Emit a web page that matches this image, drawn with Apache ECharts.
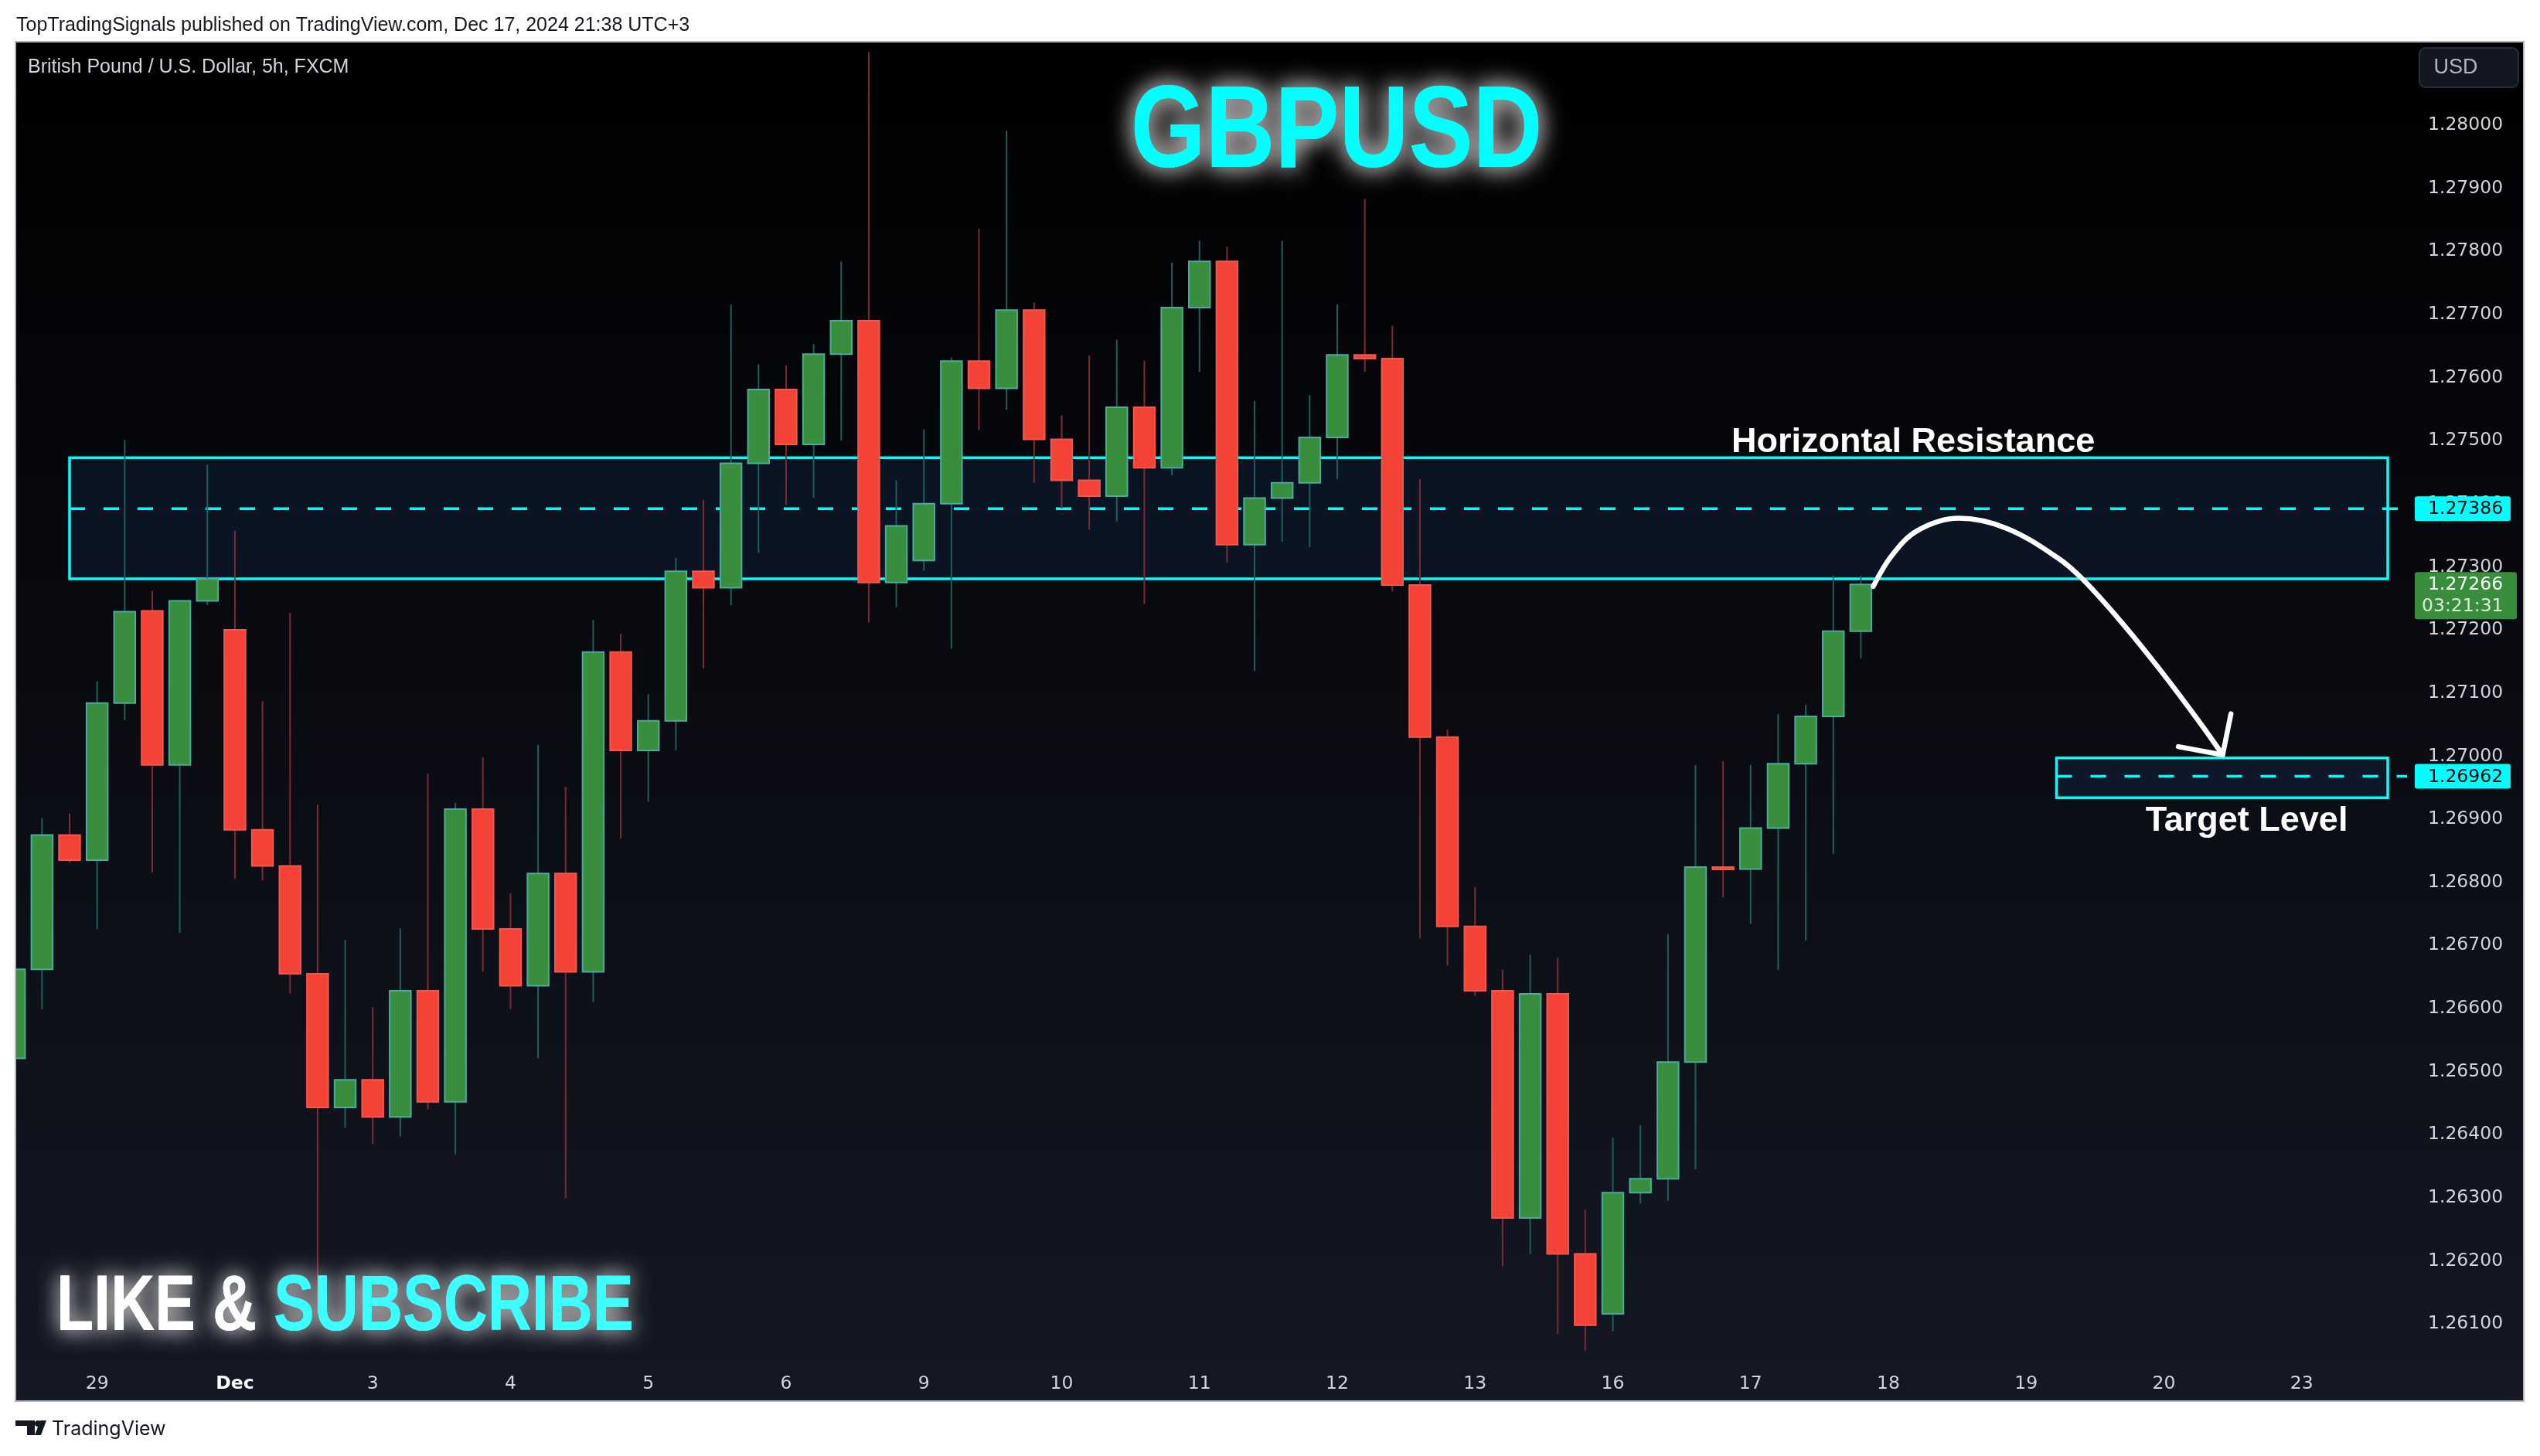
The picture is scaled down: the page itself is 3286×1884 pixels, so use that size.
<!DOCTYPE html>
<html>
<head>
<meta charset="utf-8">
<script src="https://cdn.jsdelivr.net/npm/echarts@6/dist/echarts.min.js"></script>
<style>
html,body{margin:0;padding:0;background:#ffffff;}
#c{width:3286px;height:1884px;}
</style>
</head>
<body>
<div id="c"></div>
<script>
// ---------------- DATA ----------------
const dayLabels = ['29','Dec','3','4','5','6','9','10','11','12','13','16','17','18','19','20','23'];
const firstDayBar = 3;      // bar index where "29" starts
const barsPerDay = 5;       // 5h bars per session

const opens  = [1.26515,1.26656,1.26869,1.26829,1.27078,1.27224,1.26980,1.27240,1.27194,1.26877,
                1.26820,1.26649,1.26437,1.26481,1.26422,1.26622,1.26446,1.26910,1.26720,1.26630,
                1.26808,1.26652,1.27159,1.27003,1.27050,1.27287,1.27261,1.27458,1.27575,1.27488,
                1.27631,1.27684,1.27269,1.27304,1.27394,1.27620,1.27577,1.27701,1.27496,1.27431,
                1.27406,1.27547,1.27451,1.27705,1.27778,1.27329,1.27403,1.27427,1.27499,1.27630,
                1.27624,1.27265,1.27024,1.26724,1.26622,1.26262,1.26617,1.26205,1.26110,1.26302,
                1.26324,1.26509,1.26818,1.26815,1.26880,1.26982,1.27057,1.27192];
const highs  = [1.26672,1.26896,1.26903,1.27112,1.27495,1.27256,1.27241,1.27456,1.27351,1.27081,
                1.27221,1.26917,1.26703,1.26596,1.26721,1.26966,1.26920,1.26992,1.26776,1.27012,
                1.26945,1.27210,1.27188,1.27092,1.27308,1.27400,1.27710,1.27615,1.27613,1.27647,
                1.27778,1.28110,1.27431,1.27512,1.27626,1.27830,1.27985,1.27713,1.27534,1.27629,
                1.27654,1.27621,1.27776,1.27811,1.27801,1.27557,1.27811,1.27566,1.27710,1.27877,
                1.27676,1.27433,1.27036,1.26786,1.26655,1.26679,1.26674,1.26275,1.26389,1.26409,
                1.26712,1.26980,1.26986,1.26980,1.27061,1.27076,1.27280,1.27280];
const lows   = [1.26500,1.26593,1.26825,1.26719,1.27051,1.26810,1.26714,1.27233,1.26800,1.26797,
                1.26618,1.26110,1.26405,1.26379,1.26391,1.26434,1.26363,1.26652,1.26593,1.26515,
                1.26293,1.26604,1.26863,1.26922,1.27003,1.27133,1.27233,1.27316,1.27392,1.27404,
                1.27494,1.27206,1.27230,1.27288,1.27164,1.27511,1.27543,1.27427,1.27387,1.27353,
                1.27366,1.27235,1.27439,1.27603,1.27301,1.27129,1.27334,1.27325,1.27433,1.27603,
                1.27255,1.26705,1.26662,1.26614,1.26185,1.26205,1.26078,1.26052,1.26082,1.26285,
                1.26289,1.26339,1.26770,1.26728,1.26655,1.26702,1.26839,1.27149];
const closes = [1.26656,1.26869,1.26829,1.27078,1.27223,1.26980,1.27240,1.27275,1.26877,1.26820,
                1.26649,1.26437,1.26481,1.26422,1.26622,1.26446,1.26910,1.26720,1.26630,1.26808,
                1.26652,1.27159,1.27003,1.27050,1.27287,1.27261,1.27458,1.27575,1.27488,1.27631,
                1.27684,1.27269,1.27359,1.27394,1.27620,1.27577,1.27701,1.27496,1.27431,1.27406,
                1.27547,1.27451,1.27705,1.27778,1.27329,1.27403,1.27427,1.27499,1.27630,1.27624,
                1.27265,1.27024,1.26724,1.26622,1.26262,1.26617,1.26205,1.26092,1.26302,1.26324,
                1.26509,1.26818,1.26815,1.26880,1.26982,1.27057,1.27192,1.27266];

const priceTicks = [1.261,1.262,1.263,1.264,1.265,1.266,1.267,1.268,1.269,1.270,
                    1.271,1.272,1.273,1.274,1.275,1.276,1.277,1.278,1.279,1.280];

// annotation zones (bar index range, prices)
const resistanceZone = {x0: 2.0, x1: 86.12, top: 1.27467, bottom: 1.27275, level: 1.27386};
const targetZone     = {x0: 74.1, x1: 86.12, top: 1.26991, bottom: 1.26928, level: 1.26962};
const lastPrice = 1.27266;
const countdown = '03:21:31';

// hand-drawn projection arrow (bar index, price)
const arrowX = [67.45, 68.11, 69.04, 70.55, 72.29, 74.15, 75.08, 76.48, 77.87, 79.27, 80.13];
const arrowY = [1.27263, 1.27311, 1.27351, 1.27371, 1.27355, 1.27308, 1.27273, 1.27205, 1.27130, 1.27049, 1.26996];
const arrowHeadX = [78.52, 80.13, 80.43];
const arrowHeadY = [1.27009, 1.26996, 1.27061];

// ---------------- CHART ----------------
const chart = echarts.init(document.getElementById('c'), null, {renderer: 'canvas'});

const xMin = 0.0645, xMax = 86.82;
const yMin = 1.260365, yMax = 1.281263;
const dayStarts = dayLabels.map((_, i) => firstDayBar + i * barsPerDay);

const candleData = opens.map((o, i) => [i, o, closes[i], lows[i], highs[i]]);
const CYAN = '#00ffff';
const labelFont = "'DejaVu Sans', sans-serif";
const LF = 23.5;

const option = {
  backgroundColor: '#ffffff',
  animation: false,
  grid: {left: 21, right: 172, top: 54, bottom: 124, containLabel: false},
  xAxis: {
    type: 'value', min: xMin, max: xMax,
    axisLine: {show: false}, axisTick: {show: false}, splitLine: {show: false},
    axisLabel: {
      customValues: dayStarts,
      margin: 19,
      color: '#d1d4dc', fontFamily: labelFont, fontSize: LF,
      formatter: v => {
        const idx = Math.round((v - firstDayBar) / barsPerDay);
        const t = dayLabels[idx] || '';
        return t === 'Dec' ? '{b|Dec}' : t;
      },
      rich: {b: {fontWeight: 'bold', color: '#ffffff', fontFamily: labelFont, fontSize: LF}}
    }
  },
  yAxis: {
    type: 'value', position: 'right', min: yMin, max: yMax, scale: true,
    axisLine: {show: false}, axisTick: {show: false}, splitLine: {show: false},
    axisLabel: {
      customValues: priceTicks,
      margin: 27, align: 'left', verticalAlign: 'top', lineHeight: 10,
      color: '#d1d4dc', fontFamily: labelFont, fontSize: LF,
      formatter: v => v.toFixed(5)
    }
  },
  series: [
    {
      name: 'resistance', type: 'line', z: 1, silent: true, symbol: 'none',
      data: [[resistanceZone.x0, resistanceZone.level], [xMax, resistanceZone.level]],
      lineStyle: {color: CYAN, width: 3.5, type: [20, 24]},
      markArea: {
        silent: true,
        itemStyle: {color: 'rgba(40,110,200,0.12)', borderColor: CYAN, borderWidth: 3.5},
        data: [
          [{coord: [resistanceZone.x0, resistanceZone.top]}, {coord: [resistanceZone.x1, resistanceZone.bottom]}],
          [{coord: [targetZone.x0, targetZone.top]}, {coord: [targetZone.x1, targetZone.bottom]}]
        ]
      }
    },
    {
      name: 'target', type: 'line', z: 1, silent: true, symbol: 'none',
      data: [[targetZone.x0, targetZone.level], [xMax, targetZone.level]],
      lineStyle: {color: CYAN, width: 3.5, type: [20, 24]}
    },
    {
      name: 'GBPUSD', type: 'custom', z: 5, clip: true,
      data: candleData,
      encode: {x: 0, y: [1, 2, 3, 4]},
      renderItem: (params, api) => {
        const x = api.value(0), o = api.value(1), c = api.value(2), l = api.value(3), h = api.value(4);
        const pO = api.coord([x, o]), pC = api.coord([x, c]);
        const pL = api.coord([x, l]), pH = api.coord([x, h]);
        const w = api.size([1, 0])[0] * 0.77;
        const up = c >= o;
        const top = Math.min(pO[1], pC[1]);
        const bot = Math.max(pO[1], pC[1]);
        return {
          type: 'group',
          children: [
            {type: 'line', shape: {x1: pH[0], y1: pH[1], x2: pL[0], y2: pL[1]},
             style: {stroke: up ? '#1f5e5b' : '#7c2c30', lineWidth: 2}},
            {type: 'rect', shape: {x: pO[0] - w / 2, y: top, width: w, height: Math.max(bot - top, 3)},
             style: {fill: up ? '#388e3c' : '#f44336', stroke: up ? '#4aab9e' : '#f2584e', lineWidth: 2}}
          ]
        };
      }
    },
    {
      name: 'projection', type: 'line', z: 8, silent: true, symbol: 'none', clip: false,
      smooth: 0.35,
      data: arrowX.map((x, i) => [x, arrowY[i]]),
      lineStyle: {color: '#ffffff', width: 6.5, cap: 'round', join: 'round'}
    },
    {
      name: 'arrowHead', type: 'line', z: 8, silent: true, symbol: 'none', clip: false,
      data: arrowHeadX.map((x, i) => [x, arrowHeadY[i]]),
      lineStyle: {color: '#ffffff', width: 6.5, cap: 'round', join: 'round'}
    }
  ]
};
chart.setOption(option);

const px = (x, y) => chart.convertToPixel({gridIndex: 0}, [x, y]);

// panel geometry
const panel = {x: 20, y: 54, w: 3245, h: 1759};

const g = [];
g.push({
  type: 'rect', z: -10, silent: true,
  shape: {x: panel.x, y: panel.y, width: panel.w, height: panel.h},
  style: {
    fill: new echarts.graphic.LinearGradient(0, 0, 0, 1, [
      {offset: 0, color: '#000000'}, {offset: 1, color: '#141824'}
    ]),
    stroke: '#b2b5be', lineWidth: 2
  }
});
// header
g.push({type: 'text', z: 50, x: 21, y: 33, style: {
  text: 'TopTradingSignals published on TradingView.com, Dec 17, 2024 21:38 UTC+3',
  fill: '#131722', font: "25px 'Liberation Sans', sans-serif", textVerticalAlign: 'middle'}});
g.push({type: 'text', z: 50, x: 36, y: 87, style: {
  text: 'British Pound / U.S. Dollar, 5h, FXCM',
  fill: '#d1d4dc', font: "25px 'Liberation Sans', sans-serif", textVerticalAlign: 'middle'}});
// USD button
g.push({type: 'rect', z: 50, shape: {x: 3130, y: 62, width: 128, height: 51, r: 8},
  style: {fill: '#131722', stroke: '#2a2e39', lineWidth: 2}});
g.push({type: 'text', z: 51, x: 3177, y: 88, style: {text: 'USD', fill: '#b2b5be',
  font: "27px 'Liberation Sans', sans-serif", textAlign: 'center', textVerticalAlign: 'middle'}});

// GBPUSD title with glow
for (let k = 0; k < 2; k++) {
  g.push({type: 'text', z: 60, x: 1729, y: 175, scaleX: 0.83, style: {
    text: 'GBPUSD', fill: '#00ffff',
    font: "bold 150px 'Liberation Sans', Arial, sans-serif",
    textAlign: 'center', textVerticalAlign: 'middle',
    textShadowColor: 'rgba(200,200,200,0.85)', textShadowBlur: 30}});
}
// LIKE & SUBSCRIBE
for (let k = 0; k < 2; k++) {
  g.push({type: 'text', z: 60, x: 73, y: 1693, scaleX: 0.775, style: {
    text: '{w|LIKE & }{c|SUBSCRIBE}',
    font: "bold 102px 'Liberation Sans', Arial, sans-serif",
    textVerticalAlign: 'middle',
    textShadowColor: 'rgba(200,200,200,0.8)', textShadowBlur: 26,
    rich: {
      w: {fill: '#ffffff', font: "bold 102px 'Liberation Sans', Arial, sans-serif"},
      c: {fill: '#3cffff', font: "bold 102px 'Liberation Sans', Arial, sans-serif"}
    }}});
}

// annotation texts
const hrPos = px(68.9, resistanceZone.top);
g.push({type: 'text', z: 60, x: hrPos[0], y: hrPos[1] + 3, style: {
  text: 'Horizontal Resistance', fill: '#ffffff',
  font: "bold 45px 'Liberation Sans', Arial, sans-serif",
  textAlign: 'center', textVerticalAlign: 'bottom'}});
const tlPos = px(81.0, targetZone.bottom);
g.push({type: 'text', z: 60, x: tlPos[0], y: tlPos[1] + 8, style: {
  text: 'Target Level', fill: '#ffffff',
  font: "bold 45px 'Liberation Sans', Arial, sans-serif",
  textAlign: 'center', textVerticalAlign: 'top'}});

// price badges
function badge(price, fill, textColor) {
  const y = px(0, price)[1];
  g.push({type: 'rect', z: 70, shape: {x: 3124, y: y - 16, width: 124, height: 32, r: 3}, style: {fill: fill}});
  g.push({type: 'text', z: 71, x: 3141, y: y + 1, style: {text: price.toFixed(5), fill: textColor,
    font: LF + "px " + labelFont, textVerticalAlign: 'middle'}});
}
badge(resistanceZone.level, CYAN, '#000000');
badge(targetZone.level, CYAN, '#000000');
{
  const y = px(0, lastPrice)[1];
  g.push({type: 'rect', z: 70, shape: {x: 3124, y: y - 16, width: 132, height: 61, r: 3}, style: {fill: '#388e3c'}});
  g.push({type: 'text', z: 71, x: 3141, y: y + 1, style: {text: lastPrice.toFixed(5), fill: '#ffffff',
    font: LF + "px " + labelFont, textVerticalAlign: 'middle'}});
  g.push({type: 'text', z: 71, x: 3133, y: y + 29, style: {text: countdown, fill: '#d8ecd8',
    font: LF + "px " + labelFont, textVerticalAlign: 'middle'}});
}

// footer logo + text
g.push({type: 'polygon', z: 50, shape: {points: [[20,1838],[45,1838],[45,1857],[35,1857],[35,1845],[20,1845]]}, style: {fill: '#131722'}});
g.push({type: 'circle', z: 50, shape: {cx: 49, cy: 1842, r: 4}, style: {fill: '#131722'}});
g.push({type: 'polygon', z: 50, shape: {points: [[52,1838],[60,1838],[53,1857],[45,1857]]}, style: {fill: '#131722'}});
g.push({type: 'text', z: 50, x: 67, y: 1849, style: {text: 'TradingView', fill: '#131722',
  font: "25px Inter, 'Liberation Sans', sans-serif", textVerticalAlign: 'middle'}});

chart.setOption({graphic: {elements: g}});
</script>
</body>
</html>
